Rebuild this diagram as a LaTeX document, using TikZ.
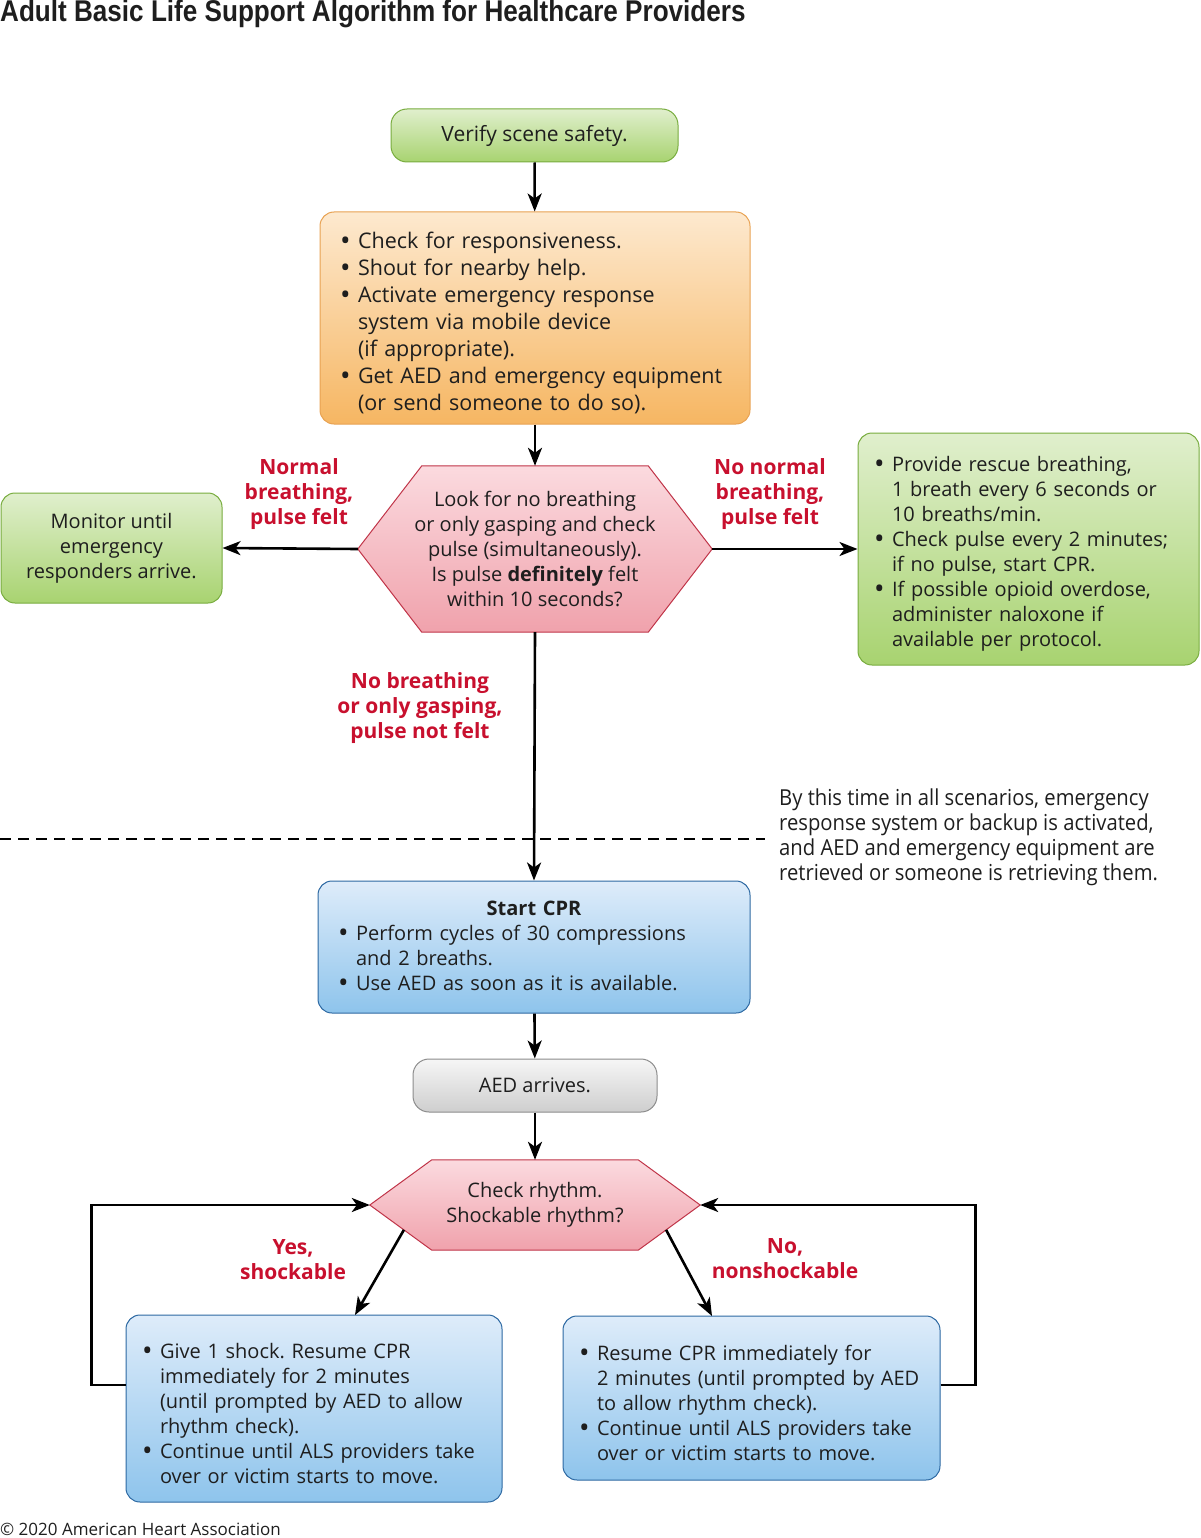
\documentclass[tikz,border=0pt]{standalone}
\usepackage{fontspec}
\setmainfont{Open Sans}
\newfontfamily\notefont[FakeStretch=0.92]{Open Sans}
\newfontfamily\titlefont[FakeStretch=0.87]{Liberation Sans}
\usepackage{xcolor}
\usetikzlibrary{arrows.meta, positioning, calc, backgrounds}
\frenchspacing

\definecolor{txtgray}{RGB}{30,30,30}
\definecolor{alertred}{RGB}{200,16,46}
\definecolor{grnline}{RGB}{120,172,62}
\definecolor{grntop}{RGB}{224,239,205}
\definecolor{grnbot}{RGB}{168,211,112}
\definecolor{orgline}{RGB}{232,162,82}
\definecolor{orgtop}{RGB}{253,233,207}
\definecolor{orgbot}{RGB}{246,182,98}
\definecolor{pnkline}{RGB}{192,52,72}
\definecolor{pnktop}{RGB}{251,218,223}
\definecolor{pnkbot}{RGB}{240,162,172}
\definecolor{bluline}{RGB}{44,104,162}
\definecolor{blutop}{RGB}{222,236,250}
\definecolor{blubot}{RGB}{142,196,236}
\definecolor{gryline}{RGB}{140,140,140}
\definecolor{grytop}{RGB}{246,246,246}
\definecolor{grybot}{RGB}{206,206,206}

% bullet line with hanging indent, lines broken with \newline
\newcommand{\bitem}[1]{\par\noindent\hangindent=18pt\hangafter=1%
  \makebox[18pt][l]{\raisebox{-2pt}{\fontsize{28}{25}\selectfont\textbullet}}#1\par}

\tikzset{
  box/.style={rectangle, rounded corners=14pt, line width=1pt, text=txtgray,
    font=\fontsize{20}{25}\selectfont, inner ysep=6pt},
  grnbox/.style={box, draw=grnline, top color=grntop, bottom color=grnbot},
  orgbox/.style={box, draw=orgline, top color=orgtop, bottom color=orgbot},
  blubox/.style={box, draw=bluline, top color=blutop, bottom color=blubot},
  grybox/.style={box, draw=gryline, top color=grytop, bottom color=grybot},
  hexnode/.style={rectangle, text=txtgray, align=center, font=\fontsize{20}{25}\selectfont},
  hexfill/.style={draw=pnkline, line width=1pt, top color=pnktop, bottom color=pnkbot},
  answer/.style={text=alertred, align=center, font=\bfseries\fontsize{21}{25}\selectfont},
  arr/.style={line width=2.6pt, -{Stealth[length=18pt, width=14pt, inset=5pt]}},
}

\begin{document}
\begin{tikzpicture}[x=1pt, y=-1pt]
\useasboundingbox (0,0) rectangle (1200,1538);

\node[anchor=west, font=\titlefont\bfseries\fontsize{30}{32}\selectfont, text=txtgray, inner sep=0pt]
  (title) at (0,14) {Adult Basic Life Support Algorithm for Healthcare Providers};

% top part
\node[grnbox, minimum width=287pt, minimum height=53pt, rounded corners=16pt, font=\fontsize{21}{25}\selectfont]
  (verify) at (534.5,135.5) {Verify scene safety.};

\node[orgbox, minimum width=430pt, minimum height=212pt, text width=390pt, inner xsep=20pt, align=left,
  font=\fontsize{21.5}{27}\selectfont]
  (check) at (535,318) {%
  \bitem{Check for responsiveness.}
  \bitem{Shout for nearby help.}
  \bitem{Activate emergency response\newline system via mobile device\newline (if appropriate).}
  \bitem{Get AED and emergency equipment\newline (or send someone to do so).}};

\node[hexnode, minimum width=354pt, minimum height=166pt] (look) at (535,549)
  {Look for no breathing\\or only gasping and check\\pulse (simultaneously).\\Is pulse \textbf{definitely} felt\\within 10 seconds?};

\node[grnbox, minimum width=221pt, minimum height=110pt, align=center] (monitor) at (111.5,548)
  {Monitor until\\emergency\\responders arrive.};

\node[grnbox, minimum width=341pt, minimum height=232pt, text width=309pt, inner xsep=16pt, align=left]
  (rescue) at (1028.5,549) {%
  \bitem{Provide rescue breathing,\newline 1 breath every 6 seconds or\newline 10 breaths/min.}
  \bitem{Check pulse every 2 minutes;\newline if no pulse, start CPR.}
  \bitem{If possible opioid overdose,\newline administer naloxone if\newline available per protocol.}};

\node[answer] (normal) at (299,494) {Normal\\breathing,\\pulse felt};
\node[answer] (nonormal) at (770,494) {No normal\\breathing,\\pulse felt};
\node[answer] (nobreath) at (420,708) {No breathing\\or only gasping,\\pulse not felt};

% dashed divider and note
\coordinate (dashL) at (0,839);
\coordinate (dashR) at (765,839);
\node[anchor=west, align=left, text=txtgray, font=\notefont\fontsize{22}{25}\selectfont, inner sep=0pt]
  (note) at (779,837.5) {By this time in all scenarios, emergency\\response system or backup is activated,\\and AED and emergency equipment are\\retrieved or someone is retrieving them.};

% CPR part
\node[blubox, minimum width=432pt, minimum height=132pt, text width=392pt, inner xsep=20pt, align=left]
  (cpr) at (534,947) {%
  {\centering\textbf{Start CPR}\par}
  \bitem{Perform cycles of 30 compressions\newline and 2 breaths.}
  \bitem{Use AED as soon as it is available.}};

\node[grybox, minimum width=244pt, minimum height=53pt, rounded corners=16pt] (aed) at (535,1085.5) {AED arrives.};

\node[hexnode, minimum width=330pt, minimum height=90pt] (rhythm) at (535,1205)
  {Check rhythm.\\Shockable rhythm?};

\node[answer] (yes) at (293,1260) {Yes,\\shockable};
\node[answer] (no) at (785,1259) {No,\\nonshockable};

\node[blubox, minimum width=376pt, minimum height=187pt, text width=344pt, inner xsep=16pt, align=left]
  (shock) at (314,1408.5) {%
  \bitem{Give 1 shock. Resume CPR\newline immediately for 2 minutes\newline (until prompted by AED to allow\newline rhythm check).}
  \bitem{Continue until ALS providers take\newline over or victim starts to move.}};

\node[blubox, minimum width=377pt, minimum height=164pt, text width=345pt, inner xsep=16pt, align=left]
  (noshock) at (751.5,1398) {%
  \bitem{Resume CPR immediately for\newline 2 minutes (until prompted by AED\newline to allow rhythm check).}
  \bitem{Continue until ALS providers take\newline over or victim starts to move.}};

\node[anchor=west, text=txtgray, font=\fontsize{17}{19}\selectfont, inner sep=0pt]
  (copy) at (0,1529) {\textcopyright{} 2020 American Heart Association};

% hexagons behind the text
\begin{scope}[on background layer]
  \path[hexfill] (look.west) -- ($(look.north west)+(64,0)$)
    -- ($(look.north east)+(-64,0)$) -- (look.east)
    -- ($(look.south east)+(-64,0)$) -- ($(look.south west)+(64,0)$) -- cycle;
  \path[hexfill] (rhythm.west) -- ($(rhythm.north west)+(62,0)$)
    -- ($(rhythm.north east)+(-62,0)$) -- (rhythm.east)
    -- ($(rhythm.south east)+(-62,0)$) coordinate (rhythmSE)
    -- ($(rhythm.south west)+(62,0)$) coordinate (rhythmSW) -- cycle;
\end{scope}

% connectors
\draw[arr] (verify) -- (check);
\draw[arr] (check) -- (look);
\draw[arr] (look.west) -- (monitor.east);
\draw[arr] (look.east) -- (rescue.west);
\draw[arr] (look.south) -- (cpr.north);
\draw[arr] (cpr) -- (aed);
\draw[arr] (aed) -- (rhythm);
\draw[line width=1.8pt, dash pattern=on 11pt off 7pt] (dashL) -- (dashR);

\coordinate (shockin) at (355,1315);
\coordinate (noshockin) at (712,1316);
\draw[arr] ($(rhythm.west)!0.55!(rhythmSW)$) -- (shockin);
\draw[arr] ($(rhythm.east)!0.55!(rhythmSE)$) -- (noshockin);

\draw[arr] ([yshift=23.5pt]shock.west) -- ++(-34,0) |- (rhythm.west);
\draw[arr] ([yshift=13pt]noshock.east) -- ++(35,0) |- (rhythm.east);
\end{tikzpicture}
\end{document}
